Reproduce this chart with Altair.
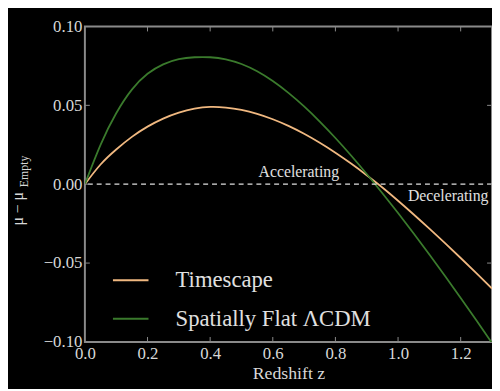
import altair as alt
import pandas as pd

z = [0.0, 0.05, 0.1, 0.15, 0.2, 0.25, 0.3, 0.35, 0.4, 0.45, 0.5, 0.55, 0.6, 0.65,
     0.7, 0.75, 0.8, 0.85, 0.9, 0.95, 1.0, 1.05, 1.1, 1.15, 1.2, 1.25, 1.3]
timescape = [0.0, 0.0125, 0.022, 0.030, 0.0365, 0.0416, 0.0454, 0.0479, 0.049, 0.0486,
             0.0471, 0.0446, 0.0412, 0.037, 0.032, 0.0263, 0.020, 0.0131, 0.0057, -0.0021,
             -0.0105, -0.0192, -0.0282, -0.0374, -0.0468, -0.0564, -0.0662]
lcdm = [0.0, 0.025, 0.045, 0.060, 0.070, 0.076, 0.0793, 0.0805, 0.0805, 0.0792,
        0.0762, 0.0716, 0.0654, 0.0579, 0.0493, 0.0397, 0.0293, 0.0182, 0.0065, -0.0057,
        -0.0183, -0.0313, -0.0446, -0.0582, -0.0721, -0.0863, -0.1007]
series_names = ["Timescape", "Spatially Flat ΛCDM"]
series_colors = ["#f0b880", "#3a7a2c"]
x_ticks = [0.0, 0.2, 0.4, 0.6, 0.8, 1.0, 1.2]
y_ticks = [-0.10, -0.05, 0.0, 0.05, 0.10]
notes = ["Accelerating", "Decelerating"]
note_z = [0.683, 1.16]
note_v = [0.0075, -0.0075]

rows = []
for name, vals in zip(series_names, [timescape, lcdm]):
    for zi, v in zip(z, vals):
        rows.append({"z": zi, "v": v, "series": name})
df = pd.DataFrame(rows)

font = "Liberation Serif, Times New Roman, DejaVu Serif, serif"
xs = alt.Scale(domain=[0, 1.3], nice=False, zero=False)
ys = alt.Scale(domain=[-0.1, 0.1], nice=False)

lines = alt.Chart(df).mark_line(strokeWidth=1.8, clip=True, interpolate="natural").encode(
    x=alt.X("z:Q", scale=xs, axis=alt.Axis(
        values=x_ticks, format=".1f", title="Redshift z", grid=False, domain=False,
        ticks=False, labelFontSize=17, labelFont=font, labelColor="#d8d8d8",
        labelPadding=4, labelFlush=False, titleFont=font, titleFontSize=18,
        titleFontWeight="normal", titleColor="#d8d8d8", titlePadding=3)),
    y=alt.Y("v:Q", scale=ys, axis=alt.Axis(
        values=y_ticks, format=".2f", title=None, grid=False, domain=False,
        ticks=False, labelFontSize=17, labelFont=font, labelColor="#d8d8d8",
        labelPadding=3, labelFlush=False)),
    color=alt.Color("series:N", scale=alt.Scale(domain=series_names, range=series_colors),
                    sort=series_names,
                    legend=alt.Legend(title=None, orient="none", legendX=27, legendY=238,
                                      symbolType="stroke", symbolSize=1300,
                                      symbolStrokeWidth=2, labelFont=font,
                                      labelFontSize=23, labelColor="#e0e0e0",
                                      labelOffset=26, rowPadding=7, padding=0,
                                      labelLimit=400)),
)

zero_df = pd.DataFrame({"v": [0.0]})
zero = alt.Chart(zero_df).mark_rule(color="#e0e0e0", strokeWidth=1.3, strokeDash=[5, 4]).encode(
    y=alt.Y("v:Q", scale=ys)
)

note_df = pd.DataFrame({"z": note_z, "v": note_v, "t": notes})
note_marks = alt.Chart(note_df).mark_text(font=font, fontSize=16, color="#e0e0e0").encode(
    x=alt.X("z:Q", scale=xs), y=alt.Y("v:Q", scale=ys), text="t:N"
)

tick_df = pd.DataFrame({"z": x_ticks[1:]})
tb = alt.Chart(tick_df).mark_rule(color="#8a8a8a", strokeWidth=1).encode(
    x=alt.X("z:Q", scale=xs), y=alt.value(320), y2=alt.value(315))
tt = alt.Chart(tick_df).mark_rule(color="#8a8a8a", strokeWidth=1).encode(
    x=alt.X("z:Q", scale=xs), y=alt.value(0), y2=alt.value(5))
ytick_df = pd.DataFrame({"v": y_ticks[1:-1]})
tl = alt.Chart(ytick_df).mark_rule(color="#8a8a8a", strokeWidth=1).encode(
    y=alt.Y("v:Q", scale=ys), x=alt.value(0), x2=alt.value(5))
tr = alt.Chart(ytick_df).mark_rule(color="#8a8a8a", strokeWidth=1).encode(
    y=alt.Y("v:Q", scale=ys), x=alt.value(413), x2=alt.value(408))

title_df = pd.DataFrame({"t": ["μ − μ"]})
ytitle = alt.Chart(title_df).mark_text(font=font, fontSize=16, color="#d8d8d8", angle=270,
                                       align="left", baseline="alphabetic").encode(
    x=alt.value(-63), y=alt.value(202), text="t:N")
sub_df = pd.DataFrame({"t": ["Empty"]})
ysub = alt.Chart(sub_df).mark_text(font=font, fontSize=12, color="#d8d8d8", angle=270,
                                   align="left", baseline="alphabetic").encode(
    x=alt.value(-58), y=alt.value(163), text="t:N")

chart = alt.layer(lines, zero, note_marks, tb, tt, tl, tr, ytitle, ysub).properties(
    width=413, height=320,
    autosize=alt.AutoSizeParams(type="none"),
    padding={"left": 78, "top": 16, "right": 0, "bottom": 45},
    background="black",
).configure_view(stroke="#8a8a8a", strokeWidth=2)

chart.save("out.html", embed_options={"renderer": "svg", "actions": False})
